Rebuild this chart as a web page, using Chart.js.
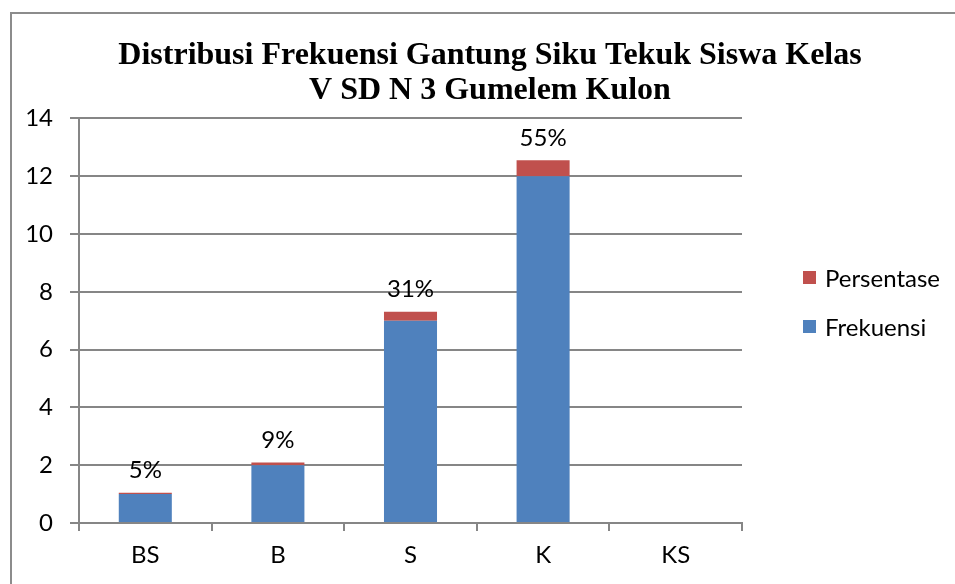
<!DOCTYPE html>
<html>
<head>
<meta charset="utf-8">
<script src="https://cdn.jsdelivr.net/npm/chart.js@4"></script>
<style>
  html, body { margin: 0; padding: 0; background: #fff; overflow: hidden; }
  body { width: 955px; height: 584px; position: relative; }
  .frame { position: absolute; left: 10px; top: 12px; width: 1000px; height: 700px; border: 2px solid #8c8c8c; box-sizing: border-box; }
  .wrap { position: absolute; left: 11px; top: 13px; width: 958px; height: 571px; }
  .legend { position: absolute; left: 803px; top: 0; font-family: Lato, sans-serif; font-size: 24px; color: #000; }
  .legend div { position: absolute; white-space: nowrap; display: flex; align-items: center; height: 28px; }
  .legend span.box { display: inline-block; width: 13px; height: 13px; margin-right: 9px; }
</style>
</head>
<body>
<div class="frame"></div>
<div class="wrap"><canvas id="chart"></canvas></div>
<div class="legend" id="legend"></div>
<script>
// kategori dan nilai
const categories = ['BS', 'B', 'S', 'K', 'KS'];
const frekuensi = [1, 2, 7, 12, 0];
const persentase = [0.05, 0.09, 0.31, 0.55, 0];
const yTicks = [0, 2, 4, 6, 8, 10, 12, 14];

const BLUE = '#4F81BD';
const RED = '#C0504D';
const GRID = '#868686';
const FONT = 'Lato, sans-serif';

// ruang kosong di kanan untuk legenda
const rightSpace = {
  id: 'rightSpace',
  beforeInit(chart) {
    Chart.layouts.addBox(chart, {
      position: 'right', weight: 100, fullSize: false, options: {},
      left: 0, top: 0, right: 0, bottom: 0, width: 0, height: 0,
      isHorizontal() { return false; },
      update(w, h) { this.width = 227; this.height = h; },
      draw() {}
    });
  }
};

// label persen di atas batang
const topLabels = {
  id: 'topLabels',
  afterDatasetsDraw(chart) {
    const ctx = chart.ctx;
    const meta = chart.getDatasetMeta(1);
    ctx.save();
    ctx.font = '24px ' + FONT;
    ctx.fillStyle = '#000';
    ctx.textAlign = 'center';
    ctx.textBaseline = 'middle';
    meta.data.forEach((bar, i) => {
      if (!frekuensi[i] && !persentase[i]) return;
      const txt = Math.round(persentase[i] * 100) + '%';
      ctx.fillText(txt, bar.x, bar.y - 22);
    });
    ctx.restore();
  }
};

new Chart(document.getElementById('chart'), {
  type: 'bar',
  data: {
    labels: categories,
    datasets: [
      { label: 'Frekuensi', data: frekuensi, backgroundColor: BLUE, stack: 's' },
      { label: 'Persentase', data: persentase, backgroundColor: RED, stack: 's' }
    ]
  },
  options: {
    responsive: true,
    maintainAspectRatio: false,
    animation: false,
    layout: { padding: 0 },
    datasets: { bar: { barPercentage: 0.4, categoryPercentage: 1 } },
    scales: {
      x: {
        stacked: true,
        grid: { display: true, offset: true, drawOnChartArea: false, drawTicks: true, tickLength: 8, color: GRID, lineWidth: 2 },
        border: { display: true, color: GRID, width: 2 },
        ticks: { color: '#000', font: { family: FONT, size: 24 }, padding: 10 },
        afterFit(scale) { scale.height = 61; }
      },
      y: {
        stacked: true,
        min: 0,
        max: 14,
        afterBuildTicks(scale) { scale.ticks = yTicks.map(v => ({ value: v })); },
        grid: { color: GRID, lineWidth: 2, tickLength: 9, drawTicks: true },
        border: { display: true, color: GRID, width: 2 },
        ticks: { color: '#000', font: { family: FONT, size: 24 }, padding: 17 },
        afterFit(scale) { scale.width = 68; }
      }
    },
    plugins: {
      legend: { display: false },
      tooltip: { enabled: false },
      title: {
        display: true,
        text: ['Distribusi Frekuensi Gantung Siku Tekuk Siswa Kelas', 'V SD N 3 Gumelem Kulon'],
        color: '#000',
        font: { family: '"Liberation Serif", "Times New Roman", serif', size: 32, weight: 'bold', lineHeight: 1.1 },
        padding: { top: 25, bottom: 10 }
      }
    }
  },
  plugins: [rightSpace, topLabels]
});

// legenda (urutan terbalik seperti aslinya)
const legend = document.getElementById('legend');
[['Persentase', RED, 263], ['Frekuensi', BLUE, 312]].forEach(([name, col, top]) => {
  const d = document.createElement('div');
  d.style.top = top + 'px';
  d.innerHTML = '<span class="box" style="background:' + col + '"></span>' + name;
  legend.appendChild(d);
});
</script>
</body>
</html>
